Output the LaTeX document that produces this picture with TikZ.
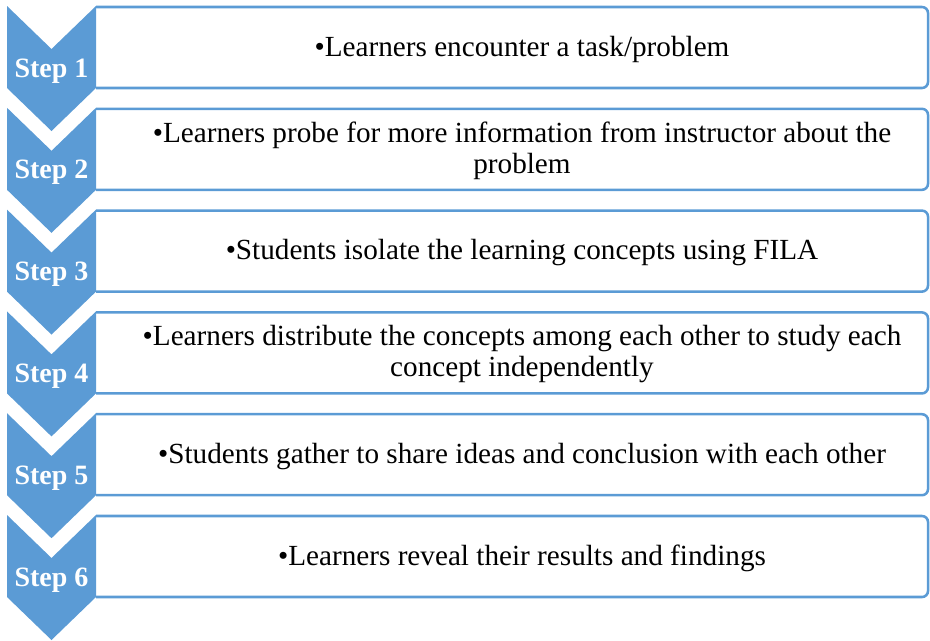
\documentclass[tikz,border=0pt]{standalone}
\usepackage{fontspec}
\setmainfont{Liberation Serif}
\definecolor{stepblue}{HTML}{5B9BD5}
\begin{document}
\begin{tikzpicture}[x=0.75pt,y=-0.75pt,
  chevron/.style={fill=stepblue,draw=none},
  stepbox/.style={draw=stepblue,line width=1.9pt,rounded corners=4.5pt},
  steplabel/.style={text=white,font=\fontsize{21}{23}\selectfont\bfseries,anchor=base,inner sep=0pt},
  steptext/.style={text=black,font=\fontsize{21.9}{23.25}\selectfont,align=center,anchor=center,inner sep=0pt}]
\useasboundingbox (0,0) rectangle (930,640);
\foreach \i/\txt in {
  1/{•Learners encounter a task/problem},
  2/{•Learners probe for more information from instructor about the\\problem},
  3/{•Students isolate the learning concepts using FILA},
  4/{•Learners distribute the concepts among each other to study each\\concept independently},
  5/{•Students gather to share ideas and conclusion with each other},
  6/{•Learners reveal their results and findings}}{
  \pgfmathsetmacro{\yo}{6+101.8*(\i-1)}
  % description box, open on the left where it meets the chevron
  \draw[stepbox] (96,\yo+1) -- (928,\yo+1) -- (928,\yo+82) -- (96,\yo+82);
  % chevron with notch on top and point below
  \fill[chevron] (7,\yo) -- (51.5,\yo+43) -- (96,\yo) -- (96,\yo+82)
    -- (51.5,\yo+125) -- (7,\yo+82) -- cycle;
  \node[steplabel] (s\i) at (51.5,\yo+71) {Step \i};
  \node[steptext] (t\i) at (522,\yo+43) {\txt};
}
\end{tikzpicture}
\end{document}
